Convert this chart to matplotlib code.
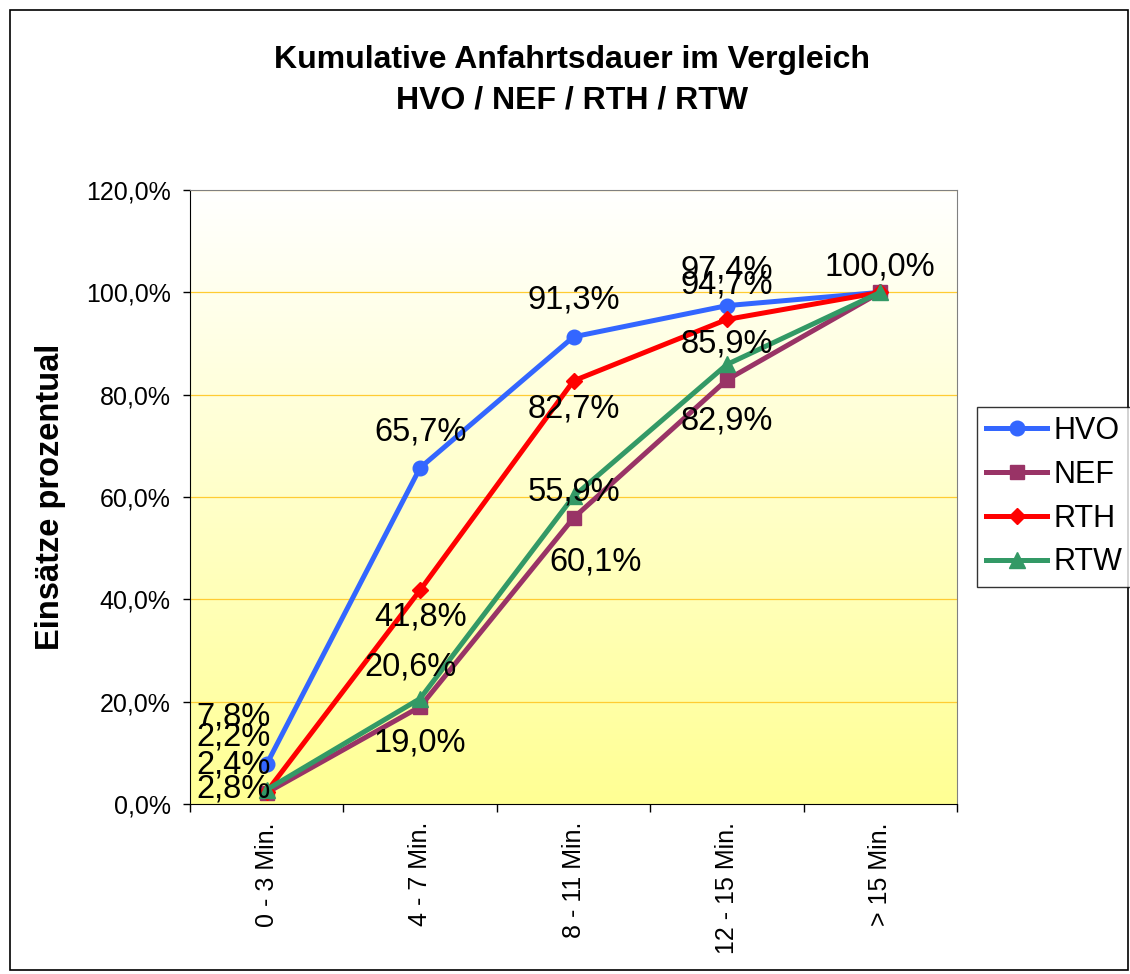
import matplotlib.pyplot as plt
import numpy as np
from matplotlib.patches import Rectangle

plt.rcParams['font.family'] = ['Liberation Sans', 'DejaVu Sans']

categories = ["0 - 3 Min.", "4 - 7 Min.", "8 - 11 Min.", "12 - 15 Min.", "> 15 Min."]
hvo = [7.8, 65.7, 91.3, 97.4, 100.0]
nef = [2.2, 19.0, 55.9, 82.9, 100.0]
rth = [2.4, 41.8, 82.7, 94.7, 100.0]
rtw = [2.8, 20.6, 60.1, 85.9, 100.0]

series = [
    ("HVO", hvo, "#3366FF", "o", 10.5),
    ("NEF", nef, "#993366", "s", 10),
    ("RTH", rth, "#FF0000", "D", 8),
    ("RTW", rtw, "#339966", "^", 11),
]
# label offsets in pixels (None = label hidden behind another one)
offsets = {
    "HVO": [(-33, 47), (0, 36), (0, 37), (0, 36), (0, 25)],
    "NEF": [(-33, 56), (0, -36), (0, 26), (0, -41), None],
    "RTH": [(-33, 27), (0, -27), (0, -28), (0, 34), None],
    "RTW": [(-33, 1), (-10, 32), (22, -66), (0, 20), None],
}

W, H = 1130, 974
fig = plt.figure(figsize=(W / 100, H / 100), dpi=100)
fig.patches.append(Rectangle((10 / W, 4 / H), 1118 / W, 960 / H, transform=fig.transFigure,
                             fill=False, edgecolor="black", linewidth=1.2))
ax = fig.add_axes([190 / W, (H - 804) / H, 767 / W, 614 / H])

x = np.arange(len(categories))
ax.set_xlim(-0.5, len(categories) - 0.5)

# gradient background: white at top, yellow at bottom
grad = np.linspace(0, 1, 256).reshape(-1, 1)
top = np.array([1.0, 1.0, 1.0])
bot = np.array([1.0, 1.0, 0.58])
img = top + (bot - top) * grad[:, :, None]
ax.imshow(img, extent=[-0.5, len(categories) - 0.5, 0, 120], aspect="auto", zorder=0)
ax.set_ylim(0, 120)

for yv in np.arange(20, 121, 20):
    ax.axhline(yv, color="#FFCC33", linewidth=0.9, zorder=1)

for name, vals, col, mk, ms in series:
    ax.plot(x, vals, color=col, linewidth=3.6, marker=mk, markersize=ms, label=name, zorder=3)
    for i, v in enumerate(vals):
        off = offsets[name][i]
        if off is None:
            continue
        ax.annotate(f"{v:.1f}%".replace(".", ","), (x[i], v), xytext=off,
                    textcoords="offset pixels", ha="center", va="center",
                    fontsize=23.5, zorder=5)

ax.set_yticks(np.arange(0, 121, 20))
ax.set_yticklabels([f"{v:.1f}%".replace(".", ",") for v in np.arange(0, 121, 20)], fontsize=18)
ax.tick_params(axis="y", direction="out", length=5, width=1, pad=9)
ax.set_xticks(x)
ax.set_xticklabels(categories, rotation=90, fontsize=18, va="top")
ax.set_xticks(np.arange(-0.5, len(categories), 1), minor=True)
ax.tick_params(axis="x", which="major", length=0, pad=13)
ax.tick_params(axis="x", which="minor", length=6, direction="out", width=1)

for s in ["top", "right"]:
    ax.spines[s].set_color("#808080")
for s in ["left", "bottom"]:
    ax.spines[s].set_color("black")

ax.set_ylabel("Einsätze prozentual", fontsize=23.5, fontweight="bold", labelpad=14)
fig.text(572 / W, 1 - 80 / H, "Kumulative Anfahrtsdauer im Vergleich\nHVO / NEF / RTH / RTW",
         ha="center", va="center", fontsize=23, fontweight="bold", linespacing=1.45)

leg = fig.legend(loc="upper left", bbox_to_anchor=(977 / W, 1 - 407 / H), fontsize=22,
                 frameon=True, fancybox=False, edgecolor="black", handlelength=2.0,
                 handletextpad=0.2, labelspacing=0.45, borderpad=0.3, borderaxespad=0)
leg.get_frame().set_linewidth(1.0)

fig.savefig("out.png", dpi=100)
